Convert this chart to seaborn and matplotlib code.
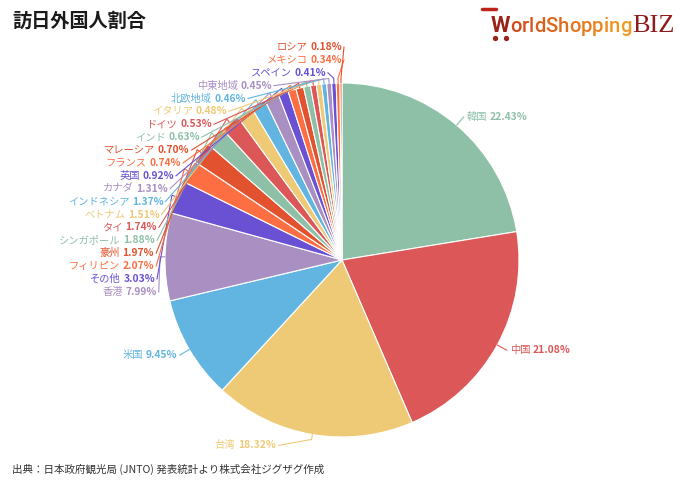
import matplotlib
matplotlib.use('Agg')
import matplotlib.pyplot as plt
import matplotlib.colors as mcolors
import seaborn as sns
import numpy as np

# ---------------- data ----------------
countries = ['韓国', '中国', '台湾', '米国', '香港', 'その他', 'フィリピン', '豪州',
             'シンガポール', 'タイ', 'ベトナム', 'インドネシア', 'カナダ', '英国',
             'フランス', 'マレーシア', 'インド', 'ドイツ', 'イタリア', '北欧地域',
             '中東地域', 'スペイン', 'メキシコ', 'ロシア']
shares = [22.43, 21.08, 18.32, 9.45, 7.99, 3.03, 2.07, 1.97,
          1.88, 1.74, 1.51, 1.37, 1.31, 0.92,
          0.74, 0.70, 0.63, 0.53, 0.48, 0.46,
          0.45, 0.41, 0.34, 0.18]
base_palette = ['#8ec0a8', '#dc5757', '#eeca76', '#62b5e1',
                '#a98fc2', '#6a51d4', '#fd6f42', '#e2522f']
title = '訪日外国人割合'
source = '出典：日本政府観光局 (JNTO) 発表統計より株式会社ジグザグ作成'

# ---------------- setup ----------------
sns.set_theme(style='white')
plt.rcParams['font.family'] = ['Noto Sans CJK JP', 'DejaVu Sans']

pal = sns.color_palette(base_palette, len(base_palette))
colors = [pal[i % len(pal)] for i in range(len(countries))]

W, H = 680, 483
fig = plt.figure(figsize=(W / 100, H / 100), dpi=100)
ax = fig.add_axes([0, 0, 1, 1])

cx, cy, R = 342, H - 260, 177
wedges, _ = ax.pie(shares, colors=colors, startangle=90, counterclock=False,
                   center=(cx, cy), radius=R, frame=True,
                   wedgeprops=dict(edgecolor='white', linewidth=0.8))
ax.set_xlim(0, W)
ax.set_ylim(0, H)
ax.axis('off')

renderer = fig.canvas.get_renderer()
FS = 7.4
R_LAB = 188


def label(i, x, y, side):
    col = colors[i]
    name = countries[i]
    val = f'{shares[i]:.2f}%'
    if side == 'left':
        tv = ax.text(x, y, val, ha='right', va='center', fontsize=FS,
                     color=col, weight='bold')
        w = tv.get_window_extent(renderer).width
        ax.text(x - w - 2.5, y, name, ha='right', va='center', fontsize=FS, color=col)
    else:
        tn = ax.text(x, y, name, ha='left', va='center', fontsize=FS, color=col)
        w = tn.get_window_extent(renderer).width
        ax.text(x + w + 2.5, y, val, ha='left', va='center', fontsize=FS,
                color=col, weight='bold')


stack_top_y = 292      # pixel y of first stacked label (香港)
stack_gap = 12.9
extra_shift = {2: -32}

for i, wdg in enumerate(wedges):
    mid = np.deg2rad((wdg.theta1 + wdg.theta2) / 2)
    c, s = np.cos(mid), np.sin(mid)
    p0 = (cx + R * c, cy + R * s)
    p1 = (cx + (R + 5) * c, cy + (R + 5) * s)
    if i < 4:
        ax_, ay_ = cx + R_LAB * c, cy + R_LAB * s
        side = 'right' if c > 0 else 'left'
        if side == 'right':
            lx, ly = ax_, ay_
            tx = lx + 3
        else:
            lx, ly = ax_ + extra_shift.get(i, 0), ay_
            tx = lx - 3
        ty = ly
    else:
        ty = H - (stack_top_y - stack_gap * (i - 4))
        dy = ty - cy
        tx = cx - np.sqrt(max(R_LAB ** 2 - dy ** 2, 0))
        lx, ly = tx + 2, ty
        side = 'left'
    ax.plot([p0[0], p1[0], lx], [p0[1], p1[1], ly], color=colors[i],
            lw=0.8, solid_capstyle='round', zorder=1)
    label(i, tx, ty, side)

# ---------------- title / source ----------------
ax.text(12, H - 21, title, fontsize=13.8, weight='bold', color='#1a1a1a',
        ha='left', va='center')
ax.text(12, H - 469, source, fontsize=7.6, color='#333333', ha='left', va='center')

# ---------------- logo ----------------
logo = 'WorldShopping'
c_start = np.array(mcolors.to_rgb('#d24a1c'))
c_end = np.array(mcolors.to_rgb('#f39a22'))
x = 491
base_y = H - 32
for k, ch in enumerate(logo):
    if k == 0:
        col = '#9a2216'
        wt = 'bold'
        fs = 16
    else:
        t = (k - 1) / (len(logo) - 2)
        col = tuple(c_start * (1 - t) + c_end * t)
        wt = 'medium'
        fs = 14.6
    tt = ax.text(x, base_y, ch, fontsize=fs, color=col, ha='left', va='baseline',
                 family='Roboto', weight=wt)
    x += tt.get_window_extent(renderer).width
ax.text(x + 1, base_y, 'BIZ', fontsize=19, color='#8e1a1a', ha='left',
        va='baseline', family='Liberation Serif')
ax.plot([482, 496], [H - 9, H - 9], color='#c0221a', lw=2.5, solid_capstyle='round')
ax.plot([495, 506], [H - 38, H - 38], 'o', color='#9a2216', ms=2.8)

fig.savefig('out.png', dpi=100)
